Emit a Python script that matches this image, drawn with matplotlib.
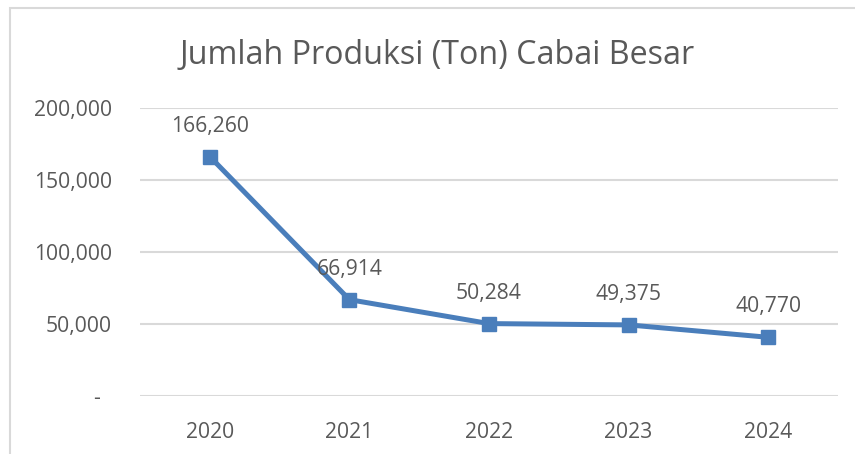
import matplotlib.pyplot as plt
from matplotlib.patches import Rectangle

years = ["2020", "2021", "2022", "2023", "2024"]
produksi = [166260, 66914, 50284, 49375, 40770]
y_ticks = [0, 50000, 100000, 150000, 200000]
y_labels = ["-  ", "50,000", "100,000", "150,000", "200,000"]

plt.rcParams['font.family'] = ['Open Sans', 'DejaVu Sans']
grey = "#595959"
blue = "#4A7EBB"

fig = plt.figure(figsize=(8.55, 4.54), dpi=100)
ax = fig.add_axes([140 / 855, 1 - 396 / 454, 698 / 855, 288 / 454])

# chart border (only top and left visible in the crop)
fig.patches.append(Rectangle((10 / 855, -0.1), 1.2, 1 - 8 / 454 + 0.1,
                             transform=fig.transFigure, fill=False,
                             edgecolor="#d9d9d9", linewidth=1.5))

x = list(range(len(years)))
ax.plot(x, produksi, color=blue, linewidth=3.6, marker="s", markersize=9.5,
        solid_capstyle="round")

for xi, v in zip(x, produksi):
    ax.annotate(f"{v:,}", (xi, v), xytext=(0, 22), textcoords="offset points",
                ha="center", va="center", fontsize=15.2, color=grey)

ax.set_xlim(-0.5, 4.5)
ax.set_ylim(0, 200000)
ax.set_xticks(x)
ax.set_xticklabels(years)
ax.set_yticks(y_ticks)
ax.set_yticklabels(y_labels)
ax.tick_params(axis="both", length=0, labelsize=15.2, labelcolor=grey)
ax.tick_params(axis="y", pad=20)
ax.tick_params(axis="x", pad=18.5)
ax.grid(axis="y", color="#d9d9d9", linewidth=1.5)
ax.set_axisbelow(True)
for s in ax.spines.values():
    s.set_visible(False)

fig.text(437 / 855, 1 - 56 / 454, "Jumlah Produksi (Ton) Cabai Besar",
         ha="center", va="center", fontsize=23.2, color=grey)

fig.savefig("out.png", dpi=100)
